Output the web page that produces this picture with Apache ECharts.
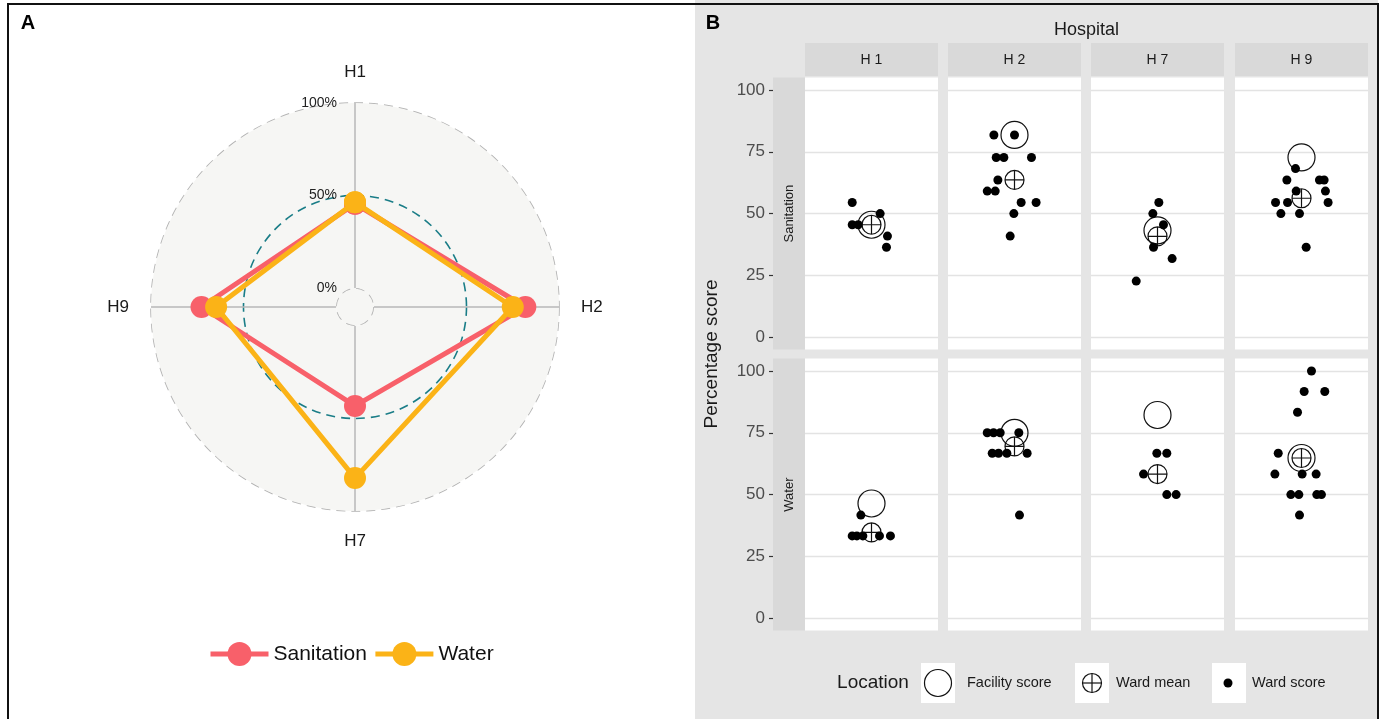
<!DOCTYPE html>
<html><head><meta charset="utf-8">
<script src="https://cdn.jsdelivr.net/npm/echarts@6/dist/echarts.min.js"></script>
<style>html,body{margin:0;padding:0;background:#fff}#c{width:1384px;height:719px}</style>
</head><body><div id="c"></div>
<script>
// ---------- DATA ----------
const radarAxes = ['H1', 'H2', 'H7', 'H9'];
const radarAngles = [0, 90, 180, 270];
const radarSanitation = [45.5, 81.8, 43.2, 72.7];
const radarWater = [46.4, 75.0, 82.2, 64.8];
const radarLabelTicks = [0, 50, 100];
const radarGreyRings = [0, 100];
const radarMidRing = [50];

const hospitals = ['H 1', 'H 2', 'H 7', 'H 9'];
const facets = ['Sanitation', 'Water'];
const yTicks = [0, 25, 50, 75, 100];

const sanitationFacility = [45.5, 81.8, 43.2, 72.7];
const sanitationWardMean = [45.5, 63.6, 40.8, 56.2];
const waterFacility = [46.4, 75.0, 82.2, 64.8];
const waterWardMean = [34.7, 69.5, 58.3, 64.8];

const sanitationWardH1 = [54.5, 45.5, 45.5, 50.0, 40.9, 36.4];
const sanitationJitterH1 = [-0.29, -0.29, -0.2, 0.13, 0.24, 0.225];
const sanitationWardH2 = [81.8, 81.8, 72.7, 72.7, 72.7, 63.6, 59.1, 59.1, 54.5, 54.5, 50.0, 40.9];
const sanitationJitterH2 = [-0.31, 0.0, -0.275, -0.16, 0.255, -0.25, -0.41, -0.29, 0.10, 0.325, -0.01, -0.065];
const sanitationWardH7 = [54.5, 50.0, 45.5, 36.4, 31.8, 22.7];
const sanitationJitterH7 = [0.02, -0.07, 0.09, -0.06, 0.22, -0.32];
const sanitationWardH9 = [68.2, 63.6, 63.6, 63.6, 59.1, 59.1, 54.5, 54.5, 54.5, 50.0, 50.0, 36.4];
const sanitationJitterH9 = [-0.09, -0.22, 0.27, 0.34, -0.08, 0.36, -0.39, -0.21, 0.40, -0.31, -0.03, 0.07];

const waterWardH1 = [41.7, 33.3, 33.3, 33.3, 33.3, 33.3];
const waterJitterH1 = [-0.16, -0.29, -0.22, -0.13, 0.12, 0.285];
const waterWardH2 = [75.0, 75.0, 75.0, 75.0, 66.7, 66.7, 66.7, 66.7, 41.7];
const waterJitterH2 = [-0.41, -0.315, -0.215, 0.065, -0.335, -0.24, -0.115, 0.19, 0.075];
const waterWardH7 = [66.7, 66.7, 58.3, 50.0, 50.0];
const waterJitterH7 = [-0.01, 0.14, -0.21, 0.14, 0.28];
const waterWardH9 = [100.0, 91.7, 91.7, 83.3, 66.7, 58.3, 58.3, 58.3, 50.0, 50.0, 50.0, 50.0, 41.7];
const waterJitterH9 = [0.15, 0.04, 0.35, -0.06, -0.35, -0.40, 0.01, 0.22, -0.16, -0.04, 0.23, 0.30, -0.03];

// ---------- STYLE / LAYOUT ----------
const FONT = '"Liberation Sans", Arial, sans-serif';
const RED = '#F8606A';
const ORANGE = '#FBB317';
const TEAL = '#1a7d87';
const colLeft = [805, 948, 1091, 1235];
const colW = 133;
const rowTop = [77.6, 358.6];
const rowH = 272;
const stripTop = 43, stripH = 33, rowStripW = 32;
const yMin = -5, yMax = 105;

const wardsByFacet = [
  [sanitationWardH1, sanitationWardH2, sanitationWardH7, sanitationWardH9],
  [waterWardH1, waterWardH2, waterWardH7, waterWardH9]
];
const jitterByFacet = [
  [sanitationJitterH1, sanitationJitterH2, sanitationJitterH7, sanitationJitterH9],
  [waterJitterH1, waterJitterH2, waterJitterH7, waterJitterH9]
];
const facilityByFacet = [sanitationFacility, waterFacility];
const meanByFacet = [sanitationWardMean, waterWardMean];

const plusCircle = 'path://M10,0 A10,10 0 1,1 10,20 A10,10 0 1,1 10,0 Z M0,10 L20,10 M10,0 L10,20';

const grids = [], xAxes = [], yAxes = [], series = [];

function closed(vals) {
  const d = radarAngles.map((a, i) => [vals[i], a]);
  d.push([vals[0], radarAngles[0]]);
  return d;
}
series.push({
  type: 'line', name: 'Sanitation', coordinateSystem: 'polar', polarIndex: 0,
  data: closed(radarSanitation), symbol: 'circle', symbolSize: 22,
  lineStyle: { width: 5, color: RED }, itemStyle: { color: RED, opacity: 1 }, z: 3, silent: true
});
series.push({
  type: 'line', name: 'Water', coordinateSystem: 'polar', polarIndex: 0,
  data: closed(radarWater), symbol: 'circle', symbolSize: 22,
  lineStyle: { width: 5, color: ORANGE }, itemStyle: { color: ORANGE, opacity: 1 }, z: 4, silent: true
});

for (let r = 0; r < 2; r++) {
  for (let c = 0; c < 4; c++) {
    const idx = r * 4 + c;
    grids.push({ left: colLeft[c], top: rowTop[r], width: colW, height: rowH, show: true,
      backgroundColor: '#ffffff', borderWidth: 0 });
    xAxes.push({ gridIndex: idx, type: 'value', min: -1, max: 1, show: false });
    yAxes.push({
      gridIndex: idx, type: 'value', min: yMin, max: yMax,
      axisLine: { show: false, onZero: false },
      axisTick: { show: false, customValues: yTicks },
      axisLabel: { show: false, customValues: yTicks },
      splitLine: { show: true, lineStyle: { color: '#e3e3e3', width: 1.3 } }
    });
    series.push({
      type: 'scatter', name: 'Facility score', xAxisIndex: idx, yAxisIndex: idx,
      data: [[0, facilityByFacet[r][c]]], symbol: 'circle', symbolSize: 27,
      itemStyle: { color: 'rgba(0,0,0,0)', borderColor: '#111', borderWidth: 1.2, opacity: 1 }, z: 2, silent: true
    });
    series.push({
      type: 'scatter', name: 'Ward mean', xAxisIndex: idx, yAxisIndex: idx,
      data: [[0, meanByFacet[r][c]]], symbol: plusCircle, symbolSize: 19,
      itemStyle: { color: 'rgba(0,0,0,0)', borderColor: '#111', borderWidth: 1.2, opacity: 1 }, z: 3, silent: true
    });
    series.push({
      type: 'scatter', name: 'Ward score', xAxisIndex: idx, yAxisIndex: idx,
      data: wardsByFacet[r][c].map((v, i) => [jitterByFacet[r][c][i], v]),
      symbol: 'circle', symbolSize: 9, itemStyle: { color: '#000', opacity: 1 }, z: 4, silent: true
    });
  }
}
// invisible axis holders on the row strips: span exactly the 0..100 part of each facet
const pxPerUnit = rowH / (yMax - yMin);
for (let r = 0; r < 2; r++) {
  const idx = grids.length;
  grids.push({ left: colLeft[0] - rowStripW, top: rowTop[r] + (yMax - yTicks[yTicks.length - 1]) * pxPerUnit,
    width: rowStripW, height: (yTicks[yTicks.length - 1] - yTicks[0]) * pxPerUnit, show: false, z: 8 });
  xAxes.push({ gridIndex: idx, type: 'value', min: -1, max: 1, show: false });
  yAxes.push({
    gridIndex: idx, type: 'value', min: yTicks[0], max: yTicks[yTicks.length - 1], interval: 25, z: 8,
    axisLine: { show: false, onZero: false },
    axisTick: { show: true, length: 4, lineStyle: { color: '#333', width: 1.2 } },
    axisLabel: { show: true, margin: 8, fontSize: 17, color: '#4d4d4d', fontFamily: FONT },
    splitLine: { show: false }
  });
}

// ---------- GRAPHICS (panel decorations) ----------
const txt = (text, x, y, size, opts = {}) => Object.assign({
  type: 'text', x: x, y: y, z: 20,
  style: { text: text, x: 0, y: 0, fill: opts.fill || '#1a1a1a', fontSize: size, fontFamily: FONT,
    fontWeight: opts.bold ? 'bold' : 'normal',
    align: opts.align || 'center', verticalAlign: 'middle', textAlign: opts.align || 'center', textVerticalAlign: 'middle' }
}, opts.rotation ? { rotation: opts.rotation } : {});

const graphics = [];
graphics.push({ type: 'rect', z: -10, shape: { x: 695, y: 0, width: 683, height: 719 }, style: { fill: '#e5e5e5' } });
graphics.push({ type: 'circle', z: -5, shape: { cx: 355, cy: 307, r: 19 }, style: { fill: '#f6f6f4' } });
hospitals.forEach((h, c) => {
  graphics.push({ type: 'rect', z: 5, shape: { x: colLeft[c], y: stripTop, width: colW, height: stripH }, style: { fill: '#d9d9d9' } });
  graphics.push(txt(h, colLeft[c] + colW / 2, stripTop + stripH / 2 + 0.5, 14));
});
facets.forEach((f, r) => {
  graphics.push({ type: 'rect', z: 5, shape: { x: colLeft[0] - rowStripW, y: rowTop[r], width: rowStripW, height: rowH }, style: { fill: '#d9d9d9' } });
  graphics.push(txt(f, colLeft[0] - rowStripW / 2, rowTop[r] + rowH / 2, 13, { rotation: Math.PI / 2 }));
});
graphics.push(txt('Hospital', (colLeft[0] + colLeft[3] + colW) / 2, 30, 18));
graphics.push(txt('Percentage score', 712, 354, 19, { rotation: Math.PI / 2 }));
graphics.push(txt('A', 28, 23, 20, { bold: true, fill: '#000' }));
graphics.push(txt('B', 713, 23, 20, { bold: true, fill: '#000' }));

// panel B legend
graphics.push(txt('Location', 873, 683, 19));
const keyBoxes = [921, 1075, 1212];
keyBoxes.forEach(x => graphics.push({ type: 'rect', z: 5, shape: { x: x, y: 663, width: 34, height: 40 }, style: { fill: '#ffffff' } }));
graphics.push({ type: 'circle', z: 10, shape: { cx: 938, cy: 683, r: 13.5 }, style: { fill: 'none', stroke: '#111', lineWidth: 1.2 } });
graphics.push({ type: 'circle', z: 10, shape: { cx: 1092, cy: 683, r: 9.5 }, style: { fill: 'none', stroke: '#111', lineWidth: 1.2 } });
graphics.push({ type: 'line', z: 10, shape: { x1: 1082.5, y1: 683, x2: 1101.5, y2: 683 }, style: { stroke: '#111', lineWidth: 1.2 } });
graphics.push({ type: 'line', z: 10, shape: { x1: 1092, y1: 673.5, x2: 1092, y2: 692.5 }, style: { stroke: '#111', lineWidth: 1.2 } });
graphics.push({ type: 'circle', z: 10, shape: { cx: 1228, cy: 683, r: 4.5 }, style: { fill: '#000' } });
graphics.push(txt('Facility score', 967, 683, 14.5, { align: 'left' }));
graphics.push(txt('Ward mean', 1116, 683, 14.5, { align: 'left' }));
graphics.push(txt('Ward score', 1252, 683, 14.5, { align: 'left' }));

// outer frame
graphics.push({ type: 'rect', z: 100, shape: { x: 8, y: 4, width: 1370, height: 730 }, style: { fill: 'none', stroke: '#111', lineWidth: 2 } });

const chart = echarts.init(document.getElementById('c'), null, { renderer: 'canvas' });
chart.setOption({
  animation: false,
  backgroundColor: '#ffffff',
  textStyle: { fontFamily: FONT },
  polar: [
    { center: [355, 307], radius: [19, 204] },
    { center: [355, 307], radius: [19, 204] }
  ],
  angleAxis: [{
    polarIndex: 0, type: 'value', min: 0, max: 360, interval: 90, startAngle: 90, clockwise: true,
    axisLine: { show: false }, axisTick: { show: false },
    axisLabel: { margin: 22, fontSize: 17, color: '#1a1a1a', fontFamily: FONT,
      formatter: v => { const i = radarAngles.indexOf(v); return (i >= 0 && v < 360) ? radarAxes[i] : ''; } },
    splitLine: { show: true, lineStyle: { color: '#b8b8b8', width: 1.5 } }
  }, {
    polarIndex: 1, type: 'value', min: 0, max: 360, interval: 90, startAngle: 90, clockwise: true,
    axisLine: { show: false }, axisTick: { show: false }, axisLabel: { show: false }, splitLine: { show: false }
  }],
  radiusAxis: [{
    polarIndex: 0, type: 'value', min: 0, max: 100, interval: 50,
    axisLine: { show: false },
    axisTick: { show: false, customValues: radarGreyRings },
    axisLabel: { customValues: radarLabelTicks, formatter: '{value}%', fontSize: 14, color: '#222', margin: 18, fontFamily: FONT },
    splitLine: { show: true, lineStyle: { color: '#b3b3b3', type: [9, 6], width: 1.6 } },
    splitArea: { show: true, areaStyle: { color: ['#f6f6f4', '#f6f6f4'] } }
  }, {
    polarIndex: 1, type: 'value', min: 0, max: 100, interval: 50,
    axisLine: { show: false },
    axisTick: { show: false, customValues: radarMidRing },
    axisLabel: { show: false },
    splitLine: { show: true, lineStyle: { color: TEAL, type: [9, 6], width: 1.6 } }
  }],
  legend: [{
    data: ['Sanitation', 'Water'], left: 203, top: 637, itemWidth: 58, itemHeight: 30, itemGap: 6,
    textStyle: { fontSize: 21, color: '#111', fontFamily: FONT }, lineStyle: { width: 5 },
    selectedMode: false
  }],
  grid: grids,
  xAxis: xAxes,
  yAxis: yAxes,
  series: series,
  graphic: { elements: graphics }
});
</script></body></html>
